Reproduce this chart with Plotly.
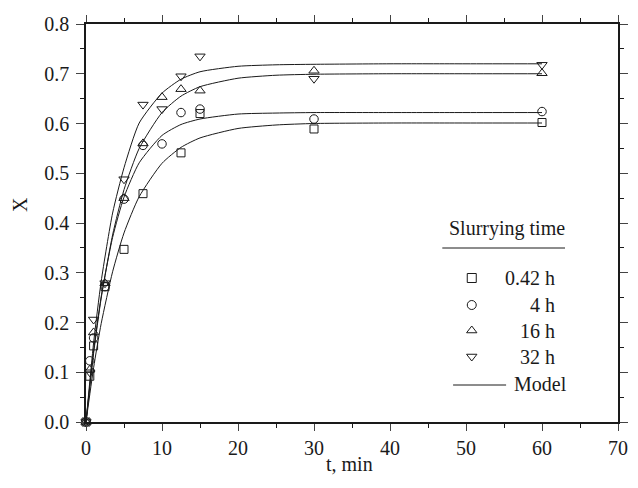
import plotly.graph_objects as go

# Measured conversion X versus time for four slurrying times
t_exp = [0, 0.5, 1, 2.5, 5, 7.5, 10, 12.5, 15, 30, 60]
x_042h = [0, 0.092, 0.153, 0.272, 0.347, 0.459, None, 0.541, 0.620, 0.589, 0.602]
x_4h = [0, 0.123, 0.169, 0.272, 0.448, 0.556, 0.559, 0.622, 0.629, 0.609, 0.624]
x_16h = [0, 0.105, 0.180, 0.279, 0.450, 0.560, 0.653, 0.669, 0.666, 0.706, 0.701]
x_32h = [0, 0.100, 0.206, 0.279, 0.488, 0.638, 0.629, 0.695, 0.735, 0.690, 0.718]

# Model curves
t_model = [0, 1, 2, 3.5, 5, 7, 10, 12.5, 15, 20, 25, 30, 40, 50, 60]
m_042h = [0, 0.109, 0.198, 0.302, 0.380, 0.453, 0.520, 0.552, 0.571, 0.590, 0.597, 0.600, 0.601, 0.601, 0.601]
m_4h = [0, 0.143, 0.252, 0.371, 0.452, 0.521, 0.576, 0.598, 0.609, 0.619, 0.621, 0.622, 0.622, 0.622, 0.622]
m_16h = [0, 0.138, 0.249, 0.376, 0.467, 0.550, 0.622, 0.655, 0.674, 0.691, 0.697, 0.699, 0.700, 0.700, 0.700]
m_32h = [0, 0.159, 0.283, 0.420, 0.511, 0.601, 0.661, 0.689, 0.704, 0.715, 0.718, 0.719, 0.720, 0.720, 0.720]

series_labels = ["0.42 h", "4 h", "16 h", "32 h"]
series_symbols = ["square-open", "circle-open", "triangle-up-open", "triangle-down-open"]
series_sizes = [8, 8.5, 9, 9]

FONT = "Liberation Serif"
INK = "#1a1a1a"
TXT = 20

fig = go.Figure()

for tm in (m_042h, m_4h, m_16h, m_32h):
    fig.add_trace(go.Scatter(
        x=t_model, y=tm, mode="lines", line=dict(color=INK, width=1, shape="spline", smoothing=0.6),
        showlegend=False, hoverinfo="skip"))

for xs, sym, sz in zip((x_042h, x_4h, x_16h, x_32h), series_symbols, series_sizes):
    fig.add_trace(go.Scatter(
        x=t_exp, y=xs, mode="markers", cliponaxis=False,
        marker=dict(symbol=sym, size=sz, color=INK, line=dict(width=1, color=INK)),
        showlegend=False))

# Hand-built key drawn on a pixel-like overlay axis pair
key_x = 479
key_rows = [278, 305, 330.5, 356.5]
for sym, row in zip(series_symbols, key_rows):
    fig.add_trace(go.Scatter(
        x=[key_x], y=[row], xaxis="x2", yaxis="y2", mode="markers", cliponaxis=False,
        marker=dict(symbol=sym, size=9, color=INK, line=dict(width=1, color=INK)),
        showlegend=False, hoverinfo="skip"))
fig.add_trace(go.Scatter(
    x=[460, 514], y=[385, 385], xaxis="x2", yaxis="y2", mode="lines", cliponaxis=False,
    line=dict(color=INK, width=1), showlegend=False, hoverinfo="skip"))

annotations = []
for lab, row in zip(series_labels, key_rows):
    annotations.append(dict(x=566, y=row, xref="x2", yref="y2", text=lab, showarrow=False,
                            xanchor="right", yanchor="middle", font=dict(family=FONT, size=TXT, color=INK)))
annotations.append(dict(x=520, y=384, xref="x2", yref="y2", text="Model", showarrow=False,
                        xanchor="left", yanchor="middle", font=dict(family=FONT, size=TXT, color=INK)))
annotations.append(dict(x=515, y=228, xref="x2", yref="y2", text="Slurrying time", showarrow=False,
                        xanchor="center", yanchor="middle", font=dict(family=FONT, size=TXT, color=INK)))
annotations.append(dict(x=0.4945, y=-0.105, xref="paper", yref="paper", text="t, min", showarrow=False,
                        xanchor="center", yanchor="middle", font=dict(family=FONT, size=TXT, color=INK)))
annotations.append(dict(x=-0.124, y=0.545, xref="paper", yref="paper", text="X", showarrow=False,
                        textangle=-90, xanchor="center", yanchor="middle",
                        font=dict(family=FONT, size=TXT, color=INK)))

shapes = [dict(type="line", xref="x2", yref="y2", x0=449, x1=574, y0=248, y1=248,
               line=dict(color=INK, width=1))]

fig.update_layout(
    width=638, height=488,
    margin=dict(l=86, r=10, t=24, b=66),
    paper_bgcolor="white", plot_bgcolor="white",
    font=dict(family=FONT, size=TXT, color=INK),
    annotations=annotations, shapes=shapes,
    xaxis=dict(range=[0, 70], dtick=10, tick0=0, ticks="outside", ticklen=7, tickwidth=1.2,
               showline=True, linewidth=1.5, linecolor=INK, mirror="ticks", showgrid=False,
               zeroline=False, tickfont=dict(family=FONT, size=TXT, color=INK),
               minor=dict(dtick=5, ticks="outside", ticklen=4, tickwidth=1.2, tickcolor=INK)),
    yaxis=dict(range=[0, 0.8], dtick=0.1, tick0=0, tickformat=".1f", ticks="outside", ticklen=8,
               tickwidth=1.2, showline=True, linewidth=1.5, linecolor=INK, mirror="ticks",
               showgrid=False, zeroline=False, tickfont=dict(family=FONT, size=TXT, color=INK),
               ticklabelstandoff=3,
               minor=dict(dtick=0.05, ticks="outside", ticklen=4, tickwidth=1.2, tickcolor=INK)),
    xaxis2=dict(range=[86, 628], overlaying="x", anchor="y2", visible=False, fixedrange=True),
    yaxis2=dict(range=[422, 24], overlaying="y", anchor="x2", visible=False, fixedrange=True),
    showlegend=False,
)

fig.write_html("out.html")
